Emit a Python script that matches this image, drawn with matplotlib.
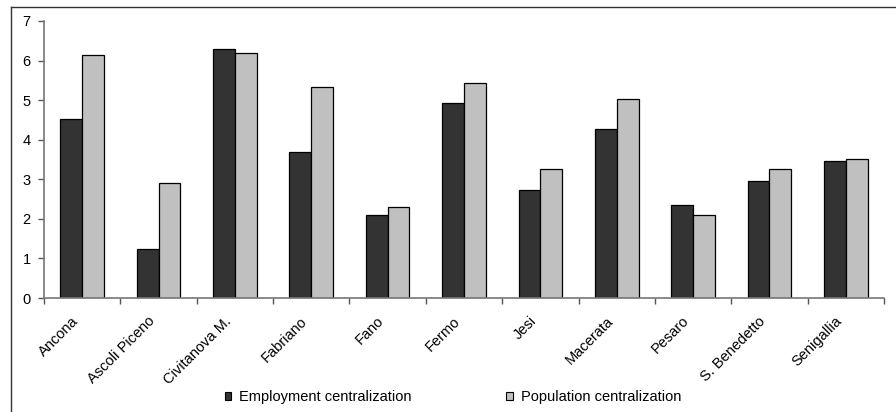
import matplotlib
matplotlib.use("Agg")
import matplotlib.pyplot as plt
import matplotlib.transforms as mtransforms
import numpy as np
from matplotlib.lines import Line2D
from matplotlib.patches import Patch

cities = ["Ancona", "Ascoli Piceno", "Civitanova M.", "Fabriano", "Fano", "Fermo",
          "Jesi", "Macerata", "Pesaro", "S. Benedetto", "Senigallia"]
employment = [4.52, 1.25, 6.29, 3.70, 2.10, 4.94, 2.74, 4.27, 2.35, 2.96, 3.45]
population = [6.15, 2.91, 6.19, 5.33, 2.31, 5.44, 3.27, 5.02, 2.10, 3.27, 3.52]
series_names = ["Employment centralization", "Population centralization"]

plt.rcParams["font.family"] = ["Liberation Sans", "DejaVu Sans"]
FS = 10.5

fig = plt.figure(figsize=(8.96, 4.12), dpi=100)
ax = fig.add_axes([44 / 896, 1 - 298 / 412, 840 / 896, 277 / 412])

x = np.arange(len(cities))
w = 1 / 3.5
ax.bar(x - w / 2, employment, w, color="#333333", edgecolor="black", linewidth=0.9)
ax.bar(x + w / 2, population, w, color="#c0c0c0", edgecolor="black", linewidth=0.9)

ax.set_xlim(-0.5, len(cities) - 0.5)
ax.set_ylim(0, 7)
ax.set_yticks(range(8))
ax.set_xticks(x)
ax.set_xticklabels(cities, rotation=45, ha="right", va="center",
                   rotation_mode="anchor", fontsize=FS)
ax.tick_params(axis="x", length=0, pad=15)
shift = mtransforms.ScaledTranslation(-6 / 100, 0, fig.dpi_scale_trans)
for lbl in ax.get_xticklabels():
    lbl.set_transform(lbl.get_transform() + shift)
ax.set_xticks(np.arange(-0.5, len(cities)), minor=True)
ax.tick_params(axis="x", which="minor", length=4, color="#555555", width=1)
ax.tick_params(axis="y", labelsize=FS, length=4, color="#555555", width=1, pad=5.5)

for side in ["top", "right"]:
    ax.spines[side].set_visible(False)
for side in ["left", "bottom"]:
    ax.spines[side].set_color("#777777")
    ax.spines[side].set_linewidth(1.2)

handles = [Patch(facecolor="#333333", edgecolor="black", linewidth=0.8),
           Patch(facecolor="#c0c0c0", edgecolor="black", linewidth=0.8)]
fig.legend(handles, series_names, loc="center", bbox_to_anchor=(453 / 896, 1 - 397 / 412),
           ncol=2, frameon=False, fontsize=FS, handlelength=0.45, handleheight=0.45,
           handletextpad=0.55, columnspacing=6.5, borderpad=0, borderaxespad=0)

# outer frame: left and top edges only
fig.add_artist(Line2D([11 / 896, 11 / 896], [0, 1 - 7 / 412], transform=fig.transFigure,
                      color="#333333", linewidth=1))
fig.add_artist(Line2D([11 / 896, 1], [1 - 7 / 412, 1 - 7 / 412], transform=fig.transFigure,
                      color="#333333", linewidth=1))

fig.savefig("out.png", dpi=100)
plt.close(fig)
